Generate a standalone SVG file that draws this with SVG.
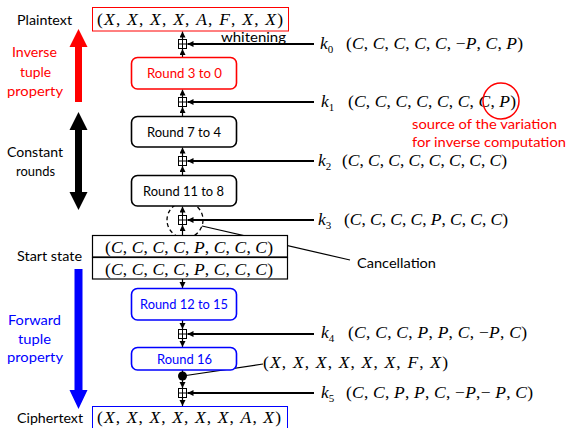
<svg xmlns="http://www.w3.org/2000/svg" width="568" height="428" viewBox="0 0 568 428">
<style>
.lbl{font-family:Lato,"Liberation Sans",sans-serif;font-size:14px;fill:#000}
.red{fill:#ff0000}
.blue{fill:#0000ff}
.m{font-family:"Liberation Serif","Times New Roman",serif;font-size:17.5px;fill:#000}
.i{font-style:italic}
.sub{font-size:11px}
.box{fill:#fff;stroke-width:1.6}
.conn{stroke:#000;stroke-width:1.2;fill:none}
.key{stroke:#000;stroke-width:1.8;fill:none}
.xor{fill:#fff;stroke:#000;stroke-width:1}
</style>
<defs>
<marker id="ah" markerUnits="userSpaceOnUse" markerWidth="7" markerHeight="7" refX="6" refY="3" orient="auto">
<path d="M0,0 L6,3 L0,6 z" fill="#000"/>
</marker>
<g id="xorsym">
<rect x="-4" y="-4.5" width="8" height="9" class="xor"/>
<line x1="0" y1="-4.5" x2="0" y2="4.5" stroke="#000" stroke-width="1"/>
<line x1="-4" y1="0" x2="4" y2="0" stroke="#000" stroke-width="1"/>
</g>
</defs>
<rect width="568" height="428" fill="#fff"/>

<g id="side-inverse">
<text class="lbl" x="17" y="25" textLength="55" lengthAdjust="spacingAndGlyphs">Plaintext</text>
<text class="lbl red" x="12" y="57" textLength="45" lengthAdjust="spacingAndGlyphs">Inverse</text>
<text class="lbl red" x="20" y="77" textLength="31" lengthAdjust="spacingAndGlyphs">tuple</text>
<text class="lbl red" x="7" y="96" textLength="56" lengthAdjust="spacingAndGlyphs">property</text>
<polygon points="75,102 82,102 82,47 87.5,47 78.5,29 69.5,47 75,47" fill="#ff0000"/>
</g>
<g id="side-constant">
<text class="lbl" x="7" y="157" textLength="56" lengthAdjust="spacingAndGlyphs">Constant</text>
<text class="lbl" x="16" y="176" textLength="39" lengthAdjust="spacingAndGlyphs">rounds</text>
<polygon points="75,130 69.5,130 78.5,112 87.5,130 82,130 82,192 87.5,192 78.5,210 69.5,192 75,192" fill="#000"/>
</g>
<g id="side-start">
<text class="lbl" x="17" y="261" textLength="65" lengthAdjust="spacingAndGlyphs">Start state</text>
</g>
<g id="side-forward">
<text class="lbl blue" x="8" y="325" textLength="53" lengthAdjust="spacingAndGlyphs">Forward</text>
<text class="lbl blue" x="18" y="344" textLength="33" lengthAdjust="spacingAndGlyphs">tuple</text>
<text class="lbl blue" x="7" y="362" textLength="56" lengthAdjust="spacingAndGlyphs">property</text>
<polygon points="74.5,269 82.5,269 82.5,390 87.5,390 78.5,409 69.5,390 74.5,390" fill="#0000ff"/>
<text class="lbl" x="17" y="423" textLength="66" lengthAdjust="spacingAndGlyphs">Ciphertext</text>
</g>

<g id="connectors">
<line class="conn" x1="182.5" y1="57" x2="182.5" y2="49" marker-end="url(#ah)"/>
<line class="conn" x1="182.5" y1="39.5" x2="182.5" y2="31.5" marker-end="url(#ah)"/>
<line class="conn" x1="182.5" y1="116" x2="182.5" y2="107" marker-end="url(#ah)"/>
<line class="conn" x1="182.5" y1="97.5" x2="182.5" y2="89.5" marker-end="url(#ah)"/>
<line class="conn" x1="182.5" y1="175" x2="182.5" y2="166" marker-end="url(#ah)"/>
<line class="conn" x1="182.5" y1="156.5" x2="182.5" y2="147.5" marker-end="url(#ah)"/>
<line class="conn" x1="182.5" y1="235" x2="182.5" y2="225" marker-end="url(#ah)"/>
<line class="conn" x1="182.5" y1="215.5" x2="182.5" y2="206.5" marker-end="url(#ah)"/>
<line class="conn" x1="182.5" y1="279" x2="182.5" y2="288" marker-end="url(#ah)"/>
<line class="conn" x1="182.5" y1="320" x2="182.5" y2="329" marker-end="url(#ah)"/>
<line class="conn" x1="182.5" y1="338.5" x2="182.5" y2="347" marker-end="url(#ah)"/>
<line class="conn" x1="182.5" y1="370" x2="182.5" y2="376"/>
<line class="conn" x1="182.5" y1="376" x2="182.5" y2="388" marker-end="url(#ah)"/>
<line class="conn" x1="182.5" y1="397.5" x2="182.5" y2="406" marker-end="url(#ah)"/>
<line class="key" x1="314" y1="44" x2="187.5" y2="44" marker-end="url(#ah)"/>
<line class="key" x1="314" y1="102" x2="187.5" y2="102" marker-end="url(#ah)"/>
<line class="key" x1="314" y1="161" x2="187.5" y2="161" marker-end="url(#ah)"/>
<line class="key" x1="314" y1="220" x2="187.5" y2="220" marker-end="url(#ah)"/>
<line class="key" x1="314" y1="334" x2="187.5" y2="334" marker-end="url(#ah)"/>
<line class="key" x1="314" y1="393" x2="187.5" y2="393" marker-end="url(#ah)"/>
<line class="conn" x1="182.5" y1="376" x2="263" y2="364"/>
<line class="conn" x1="202" y1="226" x2="350" y2="260"/>
</g>

<g id="xor0"><use href="#xorsym" x="182.5" y="44"/></g>
<g id="xor1"><use href="#xorsym" x="182.5" y="102"/></g>
<g id="xor2"><use href="#xorsym" x="182.5" y="161"/></g>
<g id="xor3"><use href="#xorsym" x="182.5" y="220"/></g>
<g id="xor4"><use href="#xorsym" x="182.5" y="334"/></g>
<g id="xor5"><use href="#xorsym" x="182.5" y="393"/></g>
<g id="tapdot"><circle cx="182.5" cy="376" r="4.5" fill="#000"/></g>
<g id="cancel-circle"><circle cx="185" cy="220" r="18" fill="none" stroke="#000" stroke-width="1.3" stroke-dasharray="4,3"/></g>

<g id="plaintext">
<rect x="92.5" y="7.5" width="196" height="23.5" fill="#fff" stroke="#ff0000" stroke-width="1"/>
<text class="m" x="97" y="25" textLength="186" lengthAdjust="spacing">(<tspan class="i">X</tspan>, <tspan class="i">X</tspan>, <tspan class="i">X</tspan>, <tspan class="i">X</tspan>, <tspan class="i">A</tspan>, <tspan class="i">F</tspan>, <tspan class="i">X</tspan>, <tspan class="i">X</tspan>)</text>
</g>
<g id="whitening"><text class="lbl" x="221" y="42" textLength="65" lengthAdjust="spacingAndGlyphs">whitening</text></g>

<g id="round3to0">
<rect x="131.5" y="57.5" width="105" height="31.5" rx="6" class="box" stroke="#ff0000"/>
<text class="lbl red" x="147" y="78" textLength="75" lengthAdjust="spacingAndGlyphs">Round 3 to 0</text>
</g>
<g id="round7to4">
<rect x="131.5" y="116.5" width="105" height="30.5" rx="6" class="box" stroke="#000"/>
<text class="lbl" x="147" y="136.5" textLength="74" lengthAdjust="spacingAndGlyphs">Round 7 to 4</text>
</g>
<g id="round11to8">
<rect x="131.5" y="175.5" width="105" height="30.5" rx="6" class="box" stroke="#000"/>
<text class="lbl" x="143" y="195.5" textLength="81" lengthAdjust="spacingAndGlyphs">Round 11 to 8</text>
</g>
<g id="startstate">
<rect x="92.5" y="235.5" width="195" height="21.5" fill="#fff" stroke="#000" stroke-width="1.2"/>
<rect x="92.5" y="257.5" width="195" height="21.5" fill="#fff" stroke="#000" stroke-width="1.2"/>
<text class="m" x="105" y="252.5" textLength="168" lengthAdjust="spacing">(<tspan class="i">C</tspan>, <tspan class="i">C</tspan>, <tspan class="i">C</tspan>, <tspan class="i">C</tspan>, <tspan class="i">P</tspan>, <tspan class="i">C</tspan>, <tspan class="i">C</tspan>, <tspan class="i">C</tspan>)</text>
<text class="m" x="105" y="274.5" textLength="168" lengthAdjust="spacing">(<tspan class="i">C</tspan>, <tspan class="i">C</tspan>, <tspan class="i">C</tspan>, <tspan class="i">C</tspan>, <tspan class="i">P</tspan>, <tspan class="i">C</tspan>, <tspan class="i">C</tspan>, <tspan class="i">C</tspan>)</text>
</g>
<g id="round12to15">
<rect x="131.5" y="288.5" width="105" height="31.5" rx="6" class="box" stroke="#0000ff"/>
<text class="lbl blue" x="140" y="309" textLength="88" lengthAdjust="spacingAndGlyphs">Round 12 to 15</text>
</g>
<g id="round16">
<rect x="131.5" y="347.5" width="105" height="22.5" rx="6" class="box" stroke="#0000ff"/>
<text class="lbl blue" x="157" y="363.5" textLength="55" lengthAdjust="spacingAndGlyphs">Round 16</text>
</g>
<g id="ciphertext">
<rect x="92.5" y="406.5" width="195" height="24" fill="#fff" stroke="#0000ff" stroke-width="1"/>
<text class="m" x="97" y="423" textLength="184" lengthAdjust="spacing">(<tspan class="i">X</tspan>, <tspan class="i">X</tspan>, <tspan class="i">X</tspan>, <tspan class="i">X</tspan>, <tspan class="i">X</tspan>, <tspan class="i">X</tspan>, <tspan class="i">A</tspan>, <tspan class="i">X</tspan>)</text>
</g>

<g id="k0">
<text class="m" x="320" y="49"><tspan class="i">k</tspan><tspan class="sub" dy="4">0</tspan></text>
<text class="m" x="346" y="49" textLength="177" lengthAdjust="spacing">(<tspan class="i">C</tspan>, <tspan class="i">C</tspan>, <tspan class="i">C</tspan>, <tspan class="i">C</tspan>, <tspan class="i">C</tspan>, −<tspan class="i">P</tspan>, <tspan class="i">C</tspan>, <tspan class="i">P</tspan>)</text>
</g>
<g id="k1">
<text class="m" x="321" y="107"><tspan class="i">k</tspan><tspan class="sub" dy="4">1</tspan></text>
<text class="m" x="348" y="107" textLength="168" lengthAdjust="spacing">(<tspan class="i">C</tspan>, <tspan class="i">C</tspan>, <tspan class="i">C</tspan>, <tspan class="i">C</tspan>, <tspan class="i">C</tspan>, <tspan class="i">C</tspan>, <tspan class="i">C</tspan>, <tspan class="i">P</tspan>)</text>
<circle cx="501" cy="101" r="18" fill="none" stroke="#ff0000" stroke-width="1.5"/>
<text class="lbl red" x="412" y="129" textLength="145" lengthAdjust="spacingAndGlyphs">source of the variation</text>
<text class="lbl red" x="412" y="147" textLength="154" lengthAdjust="spacingAndGlyphs">for inverse computation</text>
</g>
<g id="k2">
<text class="m" x="318" y="166"><tspan class="i">k</tspan><tspan class="sub" dy="4">2</tspan></text>
<text class="m" x="342" y="166" textLength="165" lengthAdjust="spacing">(<tspan class="i">C</tspan>, <tspan class="i">C</tspan>, <tspan class="i">C</tspan>, <tspan class="i">C</tspan>, <tspan class="i">C</tspan>, <tspan class="i">C</tspan>, <tspan class="i">C</tspan>, <tspan class="i">C</tspan>)</text>
</g>
<g id="k3">
<text class="m" x="318" y="225"><tspan class="i">k</tspan><tspan class="sub" dy="4">3</tspan></text>
<text class="m" x="344" y="225" textLength="164" lengthAdjust="spacing">(<tspan class="i">C</tspan>, <tspan class="i">C</tspan>, <tspan class="i">C</tspan>, <tspan class="i">C</tspan>, <tspan class="i">P</tspan>, <tspan class="i">C</tspan>, <tspan class="i">C</tspan>, <tspan class="i">C</tspan>)</text>
</g>
<g id="cancellation"><text class="lbl" x="357" y="268" textLength="79" lengthAdjust="spacingAndGlyphs">Cancellation</text></g>
<g id="k4">
<text class="m" x="321" y="338"><tspan class="i">k</tspan><tspan class="sub" dy="4">4</tspan></text>
<text class="m" x="348" y="338" textLength="179" lengthAdjust="spacing">(<tspan class="i">C</tspan>, <tspan class="i">C</tspan>, <tspan class="i">C</tspan>, <tspan class="i">P</tspan>, <tspan class="i">P</tspan>, <tspan class="i">C</tspan>, −<tspan class="i">P</tspan>, <tspan class="i">C</tspan>)</text>
</g>
<g id="tap">
<text class="m" x="263" y="368" textLength="185" lengthAdjust="spacing">(<tspan class="i">X</tspan>, <tspan class="i">X</tspan>, <tspan class="i">X</tspan>, <tspan class="i">X</tspan>, <tspan class="i">X</tspan>, <tspan class="i">X</tspan>, <tspan class="i">F</tspan>, <tspan class="i">X</tspan>)</text>
</g>
<g id="k5">
<text class="m" x="321" y="398"><tspan class="i">k</tspan><tspan class="sub" dy="4">5</tspan></text>
<text class="m" x="346" y="398" textLength="187" lengthAdjust="spacing">(<tspan class="i">C</tspan>, <tspan class="i">C</tspan>, <tspan class="i">P</tspan>, <tspan class="i">P</tspan>, <tspan class="i">C</tspan>, −<tspan class="i">P</tspan>,− <tspan class="i">P</tspan>, <tspan class="i">C</tspan>)</text>
</g>
</svg>
